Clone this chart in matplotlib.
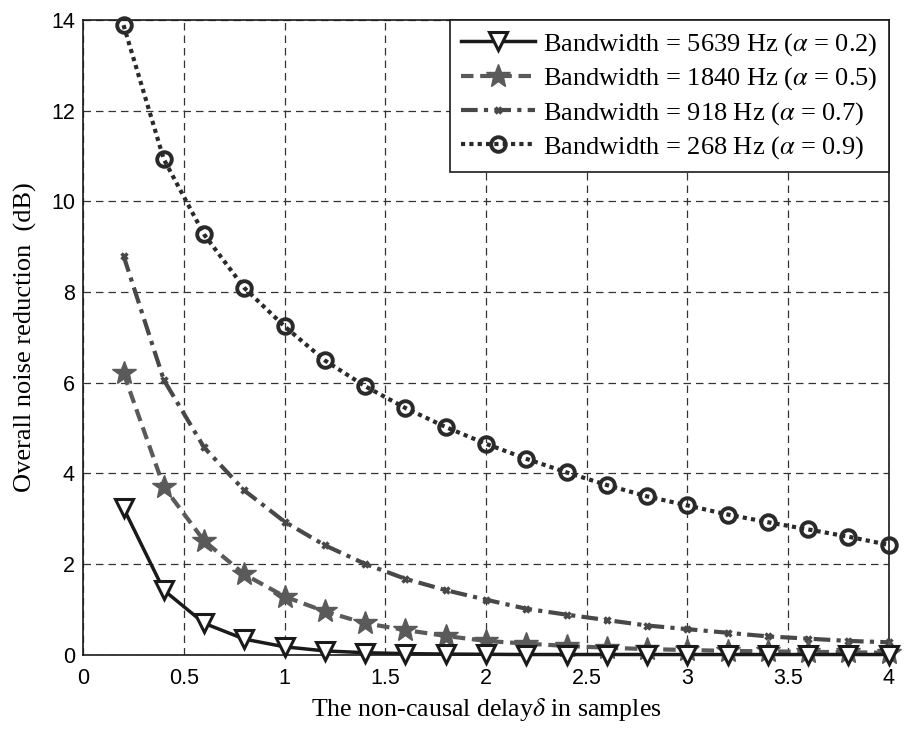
import matplotlib
matplotlib.use("Agg")
import matplotlib.pyplot as plt
import numpy as np

plt.rcParams['mathtext.fontset'] = 'stix'

delay = np.arange(1, 21) * 0.2

nr_02 = [3.23, 1.42, 0.69, 0.34, 0.17, 0.08, 0.04, 0.02, 0.01, 0.005,
         0.0, 0.0, 0.0, 0.0, 0.0, 0.0, 0.0, 0.0, 0.0, 0.0]
nr_05 = [6.21, 3.70, 2.51, 1.77, 1.28, 0.95, 0.69, 0.54, 0.41, 0.30,
         0.24, 0.19, 0.15, 0.12, 0.10, 0.08, 0.07, 0.06, 0.05, 0.04]
nr_07 = [8.80, 6.06, 4.57, 3.62, 2.93, 2.41, 2.00, 1.67, 1.42, 1.21,
         1.01, 0.88, 0.76, 0.64, 0.56, 0.48, 0.40, 0.35, 0.30, 0.27]
nr_09 = [13.89, 10.93, 9.27, 8.09, 7.24, 6.49, 5.92, 5.44, 5.02, 4.65,
         4.32, 4.02, 3.74, 3.49, 3.29, 3.09, 2.92, 2.76, 2.60, 2.42]

labels = ['Bandwidth = 5639 Hz ($\\alpha$ = 0.2)',
          'Bandwidth = 1840 Hz ($\\alpha$ = 0.5)',
          'Bandwidth = 918 Hz ($\\alpha$ = 0.7)',
          'Bandwidth = 268 Hz ($\\alpha$ = 0.9)']

fig = plt.figure(figsize=(9.05, 7.3), dpi=100)
ax = fig.add_axes([0.092, 0.1034, 0.890, 0.869])

ax.plot(delay, nr_02, color='#1a1a1a', lw=2.5, ls='-', marker='v', ms=13,
        mfc='white', mec='#1a1a1a', mew=2.2, label=labels[0], zorder=5, clip_on=False)
ax.plot(delay, nr_05, color='#5a5a5a', lw=3, ls=(0, (3, 1.6)), marker='*', ms=18,
        mfc='#5a5a5a', mec='#5a5a5a', label=labels[1], zorder=4, clip_on=False)
ax.plot(delay, nr_07, color='#484848', lw=3, ls=(0, (4, 1.5, 1, 1.5)), marker='x', ms=5,
        mew=2.5, label=labels[2], zorder=3, clip_on=False)
ax.plot(delay, nr_09, color='#2a2a2a', lw=3, ls=(0, (1, 1)), marker='o', ms=10.5,
        mfc='none', mec='#2a2a2a', mew=2.8, label=labels[3], zorder=3, clip_on=False)

ax.set_xlim(0, 4)
ax.set_ylim(0, 14)
ax.set_xticks(np.arange(0, 4.01, 0.5))
ax.set_xticklabels(['0', '0.5', '1', '1.5', '2', '2.5', '3', '3.5', '4'])
ax.set_yticks(np.arange(0, 15, 2))
ax.tick_params(direction='in', length=0, labelsize=15.5)
ax.tick_params(axis='x', pad=9.5)
ax.tick_params(axis='y', pad=6)
for t in ax.get_xticklabels() + ax.get_yticklabels():
    t.set_fontfamily('Liberation Sans')
ax.grid(True, color='#333333', lw=0.9, ls=(0, (6, 4)))
for s in ax.spines.values():
    s.set_linewidth(1.2)
    s.set_color('#1a1a1a')

ax.set_xlabel('The non-causal delay$\\delta$ in samples', fontfamily='Liberation Serif',
              fontsize=18.6, labelpad=5)
ax.set_ylabel('Overall noise reduction  (dB)', fontfamily='Liberation Serif',
              fontsize=19, labelpad=10)

leg = ax.legend(loc='upper right', prop={'family': 'Liberation Serif', 'size': 19},
                handlelength=2.8, numpoints=1, fancybox=False, framealpha=1,
                edgecolor='#1a1a1a', borderaxespad=0.0, labelspacing=0.28,
                handletextpad=0.3, borderpad=0.42)
leg.get_frame().set_linewidth(1.2)
leg.set_zorder(10)

fig.savefig('out.png', dpi=100)
